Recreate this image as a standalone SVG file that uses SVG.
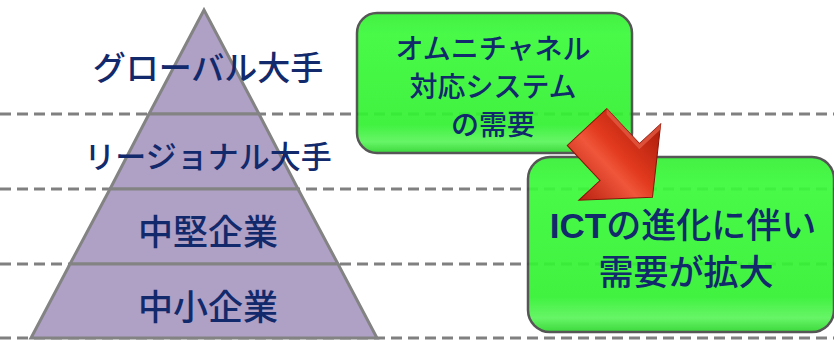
<svg xmlns="http://www.w3.org/2000/svg" width="834" height="340" viewBox="0 0 834 340">
<style>
.dash{stroke:#808080;stroke-width:3;stroke-dasharray:11 6;fill:none}
.tier{fill:#AFA0C6;stroke:#838383;stroke-width:3;stroke-linejoin:miter}
.lbl{font-family:"Noto Sans CJK JP","Noto Sans",sans-serif;font-weight:500;fill:#12296B;text-anchor:middle}
.box{fill:url(#g);stroke:#4A4A4A;stroke-width:2.5;opacity:0.93}
</style>
<defs>
<linearGradient id="g" x1="0" y1="0" x2="0" y2="1">
<stop offset="0" stop-color="#36F036"/>
<stop offset="0.15" stop-color="#3CFA3C"/>
<stop offset="0.8" stop-color="#33F233"/>
<stop offset="0.92" stop-color="#5CF55C"/>
<stop offset="1" stop-color="#2ED62E"/>
</linearGradient>
<linearGradient id="r" x1="0" y1="0" x2="0" y2="1">
<stop offset="0" stop-color="#A81A0A"/>
<stop offset="0.45" stop-color="#E23A1E"/>
<stop offset="0.6" stop-color="#F0563A"/>
<stop offset="1" stop-color="#B82010"/>
</linearGradient>
</defs>
<g id="connectors">
<line class="dash" x1="0" y1="114" x2="834" y2="114"/>
<line class="dash" x1="0" y1="189" x2="834" y2="189"/>
<line class="dash" x1="0" y1="264" x2="834" y2="264"/>
<line class="dash" x1="0" y1="338" x2="834" y2="338"/>
</g>
<g id="tier-global">
<polygon class="tier" points="204,10 259,114 149,114"/>
<text class="lbl" x="208" y="80" font-size="33">グローバル大手</text>
</g>
<g id="tier-regional">
<polygon class="tier" points="149,114 259,114 298,189 110,189"/>
<text class="lbl" x="208" y="168" font-size="31">リージョナル大手</text>
</g>
<g id="tier-mid">
<polygon class="tier" points="110,189 298,189 338,264 70,264"/>
<text class="lbl" x="208" y="245" font-size="35">中堅企業</text>
</g>
<g id="tier-small">
<polygon class="tier" points="70,264 338,264 377,338 31,338"/>
<text class="lbl" x="208" y="320" font-size="35">中小企業</text>
</g>
<g id="box-omni">
<rect class="box" x="357" y="13" width="275" height="140" rx="20"/>
<text class="lbl" x="493" y="59" font-size="28">オムニチャネル</text>
<text class="lbl" x="493" y="97" font-size="28">対応システム</text>
<text class="lbl" x="493" y="135" font-size="28">の需要</text>
</g>
<g id="box-ict">
<rect class="box" x="528" y="157" width="306" height="175" rx="22"/>
<text class="lbl" x="683" y="238" font-size="35"><tspan font-weight="bold" font-family="Liberation Sans, sans-serif">ICT</tspan>の進化に伴い</text>
<text class="lbl" x="686" y="285" font-size="35">需要が拡大</text>
</g>
<g id="arrow" transform="translate(587,127) rotate(47)">
<polygon points="0,-27 48,-27 48,-56 96,0 48,56 48,27 0,27" fill="url(#r)" stroke="#8A1408" stroke-width="1"/>
<polygon points="0,-27 48,-27 48,-56 52,-52 52,-23 4,-23" fill="#E86048" opacity="0.7"/>
</g>
</svg>
